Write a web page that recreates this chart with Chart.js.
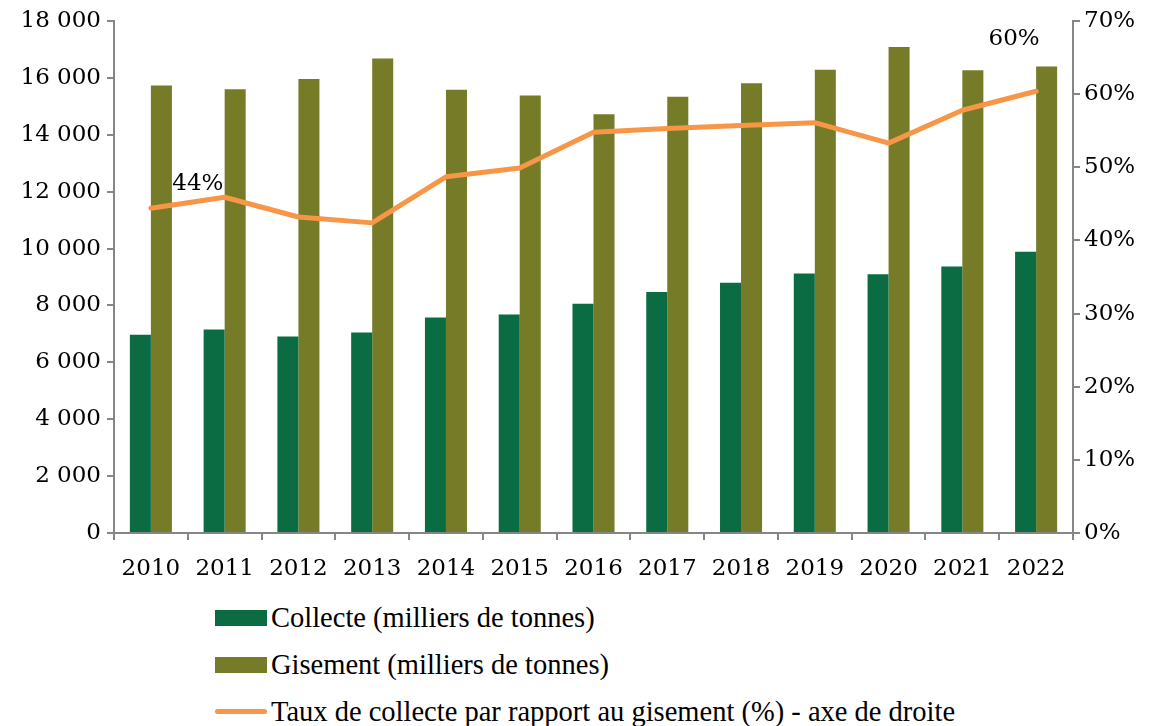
<!DOCTYPE html>
<html lang="fr">
<head>
<meta charset="utf-8">
<script src="https://cdn.jsdelivr.net/npm/chart.js@4.4.1/dist/chart.umd.min.js"></script>
<style>
  html, body { margin: 0; padding: 0; background: #fff; }
  #wrap { position: relative; width: 1159px; height: 726px; overflow: hidden; }
  #chartBox { position: absolute; left: 0; top: 0; width: 1159px; height: 590px; }
  #legend { position: absolute; left: 215px; top: 594px; font-family: "Liberation Serif", serif; font-size: 28.5px; color: #000; }
  .row { display: flex; align-items: center; height: 47px; }
  .box { width: 52px; height: 16px; margin-right: 4px; }
  .ln { width: 52px; height: 5px; border-radius: 3px; margin-right: 4px; }
</style>
</head>
<body>
<div id="wrap">
  <div id="chartBox"><canvas id="chart"></canvas></div>
  <div id="legend"></div>
</div>
<script>
/* --------- データ --------- */
const years = ["2010","2011","2012","2013","2014","2015","2016","2017","2018","2019","2020","2021","2022"];
const collecte = [6970, 7150, 6910, 7050, 7580, 7680, 8060, 8470, 8800, 9120, 9100, 9370, 9890];
const gisement = [15730, 15600, 15960, 16680, 15580, 15380, 14720, 15340, 15810, 16290, 17090, 16270, 16400];
const taux = [44.4, 45.9, 43.2, 42.4, 48.7, 49.9, 54.8, 55.3, 55.7, 56.1, 53.3, 57.8, 60.4];
const tauxLabels = ["44%", "", "", "", "", "", "", "", "", "", "", "", "60%"];

const seriesNames = [
  "Collecte (milliers de tonnes)",
  "Gisement (milliers de tonnes)",
  "Taux de collecte par rapport au gisement (%) - axe de droite",
];

/* --------- 色・フォント --------- */
const colGreen = "#0b6c44";
const colOlive = "#757b27";
const colOrange = "#f79646";
const axisGrey = "#868686";
const tickFont = { family: "'DejaVu Serif', serif", size: 23 };

// 千の区切りをスペースで
const fmt = (v) => String(v).replace(/\B(?=(\d{3})+(?!\d))/g, " ");

/* --------- ラベル描画プラグイン --------- */
// 折れ線の最初と最後の点にパーセント表示
const rateLabelPlugin = {
  id: "rateLabels",
  afterDatasetsDraw(chart) {
    const meta = chart.getDatasetMeta(2);
    const ctx = chart.ctx;
    const offsets = { 0: [47, -24], 12: [-22, -52] };
    ctx.save();
    ctx.font = "23px 'DejaVu Serif', serif";
    ctx.fillStyle = "#000";
    ctx.textAlign = "center";
    ctx.textBaseline = "middle";
    tauxLabels.forEach((t, i) => {
      if (!t) return;
      const p = meta.data[i];
      const o = offsets[i] || [0, -20];
      ctx.fillText(t, p.x + o[0], p.y + o[1]);
    });
    ctx.restore();
  },
};

function axisGrid() {
  return {
    display: true,
    drawOnChartArea: false,
    drawTicks: true,
    tickLength: 7,
    color: axisGrey,
    lineWidth: 2,
  };
}

new Chart(document.getElementById("chart"), {
  data: {
    labels: years,
    datasets: [
      { type: "bar", label: seriesNames[0], data: collecte, backgroundColor: colGreen, yAxisID: "y", order: 2 },
      { type: "bar", label: seriesNames[1], data: gisement, backgroundColor: colOlive, yAxisID: "y", order: 2 },
      {
        type: "line", label: seriesNames[2], data: taux, borderColor: colOrange, borderWidth: 5,
        pointRadius: 0, tension: 0, yAxisID: "y1", order: 0, borderCapStyle: "round", borderJoinStyle: "round",
      },
    ],
  },
  options: {
    responsive: true,
    maintainAspectRatio: false,
    animation: false,
    layout: { padding: { top: 21, bottom: 0, left: 0, right: 0 } },
    datasets: { bar: { categoryPercentage: 0.57, barPercentage: 1.0 } },
    plugins: { legend: { display: false }, tooltip: { enabled: false } },
    scales: {
      x: {
        offset: true,
        grid: { ...axisGrid(), offset: true },
        border: { color: axisGrey, width: 2 },
        ticks: { font: tickFont, color: "#000", padding: 15 },
        afterFit: (a) => { a.height = 57; },
      },
      y: {
        position: "left",
        min: 0, max: 18000,
        grid: axisGrid(),
        border: { color: axisGrey, width: 2 },
        ticks: { stepSize: 2000, font: tickFont, color: "#000", padding: 6, callback: (v) => fmt(v) },
        afterFit: (a) => { a.width = 114; },
      },
      y1: {
        position: "right",
        min: 0, max: 70,
        grid: axisGrid(),
        border: { color: axisGrey, width: 2 },
        ticks: { stepSize: 10, font: tickFont, color: "#000", padding: 4, callback: (v) => v + "%" },
        afterFit: (a) => { a.width = 86; },
      },
    },
  },
  plugins: [rateLabelPlugin],
});

/* --------- 凡例 --------- */
const legendEl = document.getElementById("legend");
[[colGreen, "box"], [colOlive, "box"], [colOrange, "ln"]].forEach(([c, cls], i) => {
  legendEl.insertAdjacentHTML(
    "beforeend",
    `<div class="row"><span class="${cls}" style="background:${c}"></span><span>${seriesNames[i]}</span></div>`
  );
});
</script>
</body>
</html>
